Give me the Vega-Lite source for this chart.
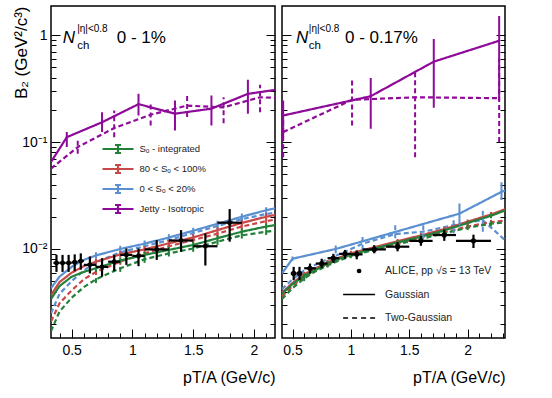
{
  "$schema": "https://vega.github.io/schema/vega-lite/v6.json",
  "padding": {"left": 11, "top": 5, "right": 5, "bottom": 5},
  "config": {
    "font": "Liberation Sans",
    "view": {"stroke": "black", "strokeWidth": 1.5},
    "axis": {"labelFont": "Liberation Sans", "titleFont": "Liberation Sans", "labelColor": "black", "titleColor": "black", "tickColor": "black", "tickWidth": 1, "domain": false, "grid": false, "labelOverlap": false, "labelFlush": false, "titleFontWeight": "normal"},
    "legend": {"labelFont": "Liberation Sans", "labelColor": "#222"}
  },
  "datasets": {
    "m": [
      {"p":"L","s":"Jetty - Isotropic","t":"G","x":0.33,"y":0.065},
      {"p":"L","s":"Jetty - Isotropic","t":"G","x":0.46,"y":0.111,"lo":0.090,"hi":0.124},
      {"p":"L","s":"Jetty - Isotropic","t":"G","x":0.75,"y":0.153,"lo":0.124,"hi":0.190},
      {"p":"L","s":"Jetty - Isotropic","t":"G","x":1.05,"y":0.226,"lo":0.177,"hi":0.282},
      {"p":"L","s":"Jetty - Isotropic","t":"G","x":1.35,"y":0.184,"lo":0.128,"hi":0.244},
      {"p":"L","s":"Jetty - Isotropic","t":"G","x":1.65,"y":0.205,"lo":0.143,"hi":0.272},
      {"p":"L","s":"Jetty - Isotropic","t":"G","x":1.95,"y":0.282,"lo":0.184,"hi":0.383},
      {"p":"L","s":"Jetty - Isotropic","t":"G","x":2.173,"y":0.307},
      {"p":"L","s":"Jetty - Isotropic","t":"T","x":0.33,"y":0.0564},
      {"p":"L","s":"Jetty - Isotropic","t":"T","x":0.55,"y":0.0897,"lo":0.0776,"hi":0.1033},
      {"p":"L","s":"Jetty - Isotropic","t":"T","x":0.85,"y":0.135,"lo":0.111,"hi":0.197},
      {"p":"L","s":"Jetty - Isotropic","t":"T","x":1.15,"y":0.180,"lo":0.143,"hi":0.236},
      {"p":"L","s":"Jetty - Isotropic","t":"T","x":1.45,"y":0.219,"lo":0.171,"hi":0.272},
      {"p":"L","s":"Jetty - Isotropic","t":"T","x":1.75,"y":0.211,"lo":0.150,"hi":0.262},
      {"p":"L","s":"Jetty - Isotropic","t":"T","x":2.05,"y":0.262,"lo":0.190,"hi":0.344},
      {"p":"L","s":"Jetty - Isotropic","t":"T","x":2.173,"y":0.259},

      {"p":"L","s":"0 < Sₒ < 20%","t":"G","x":0.33,"y":0.0043},
      {"p":"L","s":"0 < Sₒ < 20%","t":"G","x":0.4,"y":0.0055},
      {"p":"L","s":"0 < Sₒ < 20%","t":"G","x":0.5,"y":0.0068},
      {"p":"L","s":"0 < Sₒ < 20%","t":"G","x":0.6,"y":0.0079},
      {"p":"L","s":"0 < Sₒ < 20%","t":"G","x":0.7,"y":0.0087,"lo":0.0081,"hi":0.0093},
      {"p":"L","s":"0 < Sₒ < 20%","t":"G","x":0.9,"y":0.0100,"lo":0.0093,"hi":0.0107},
      {"p":"L","s":"0 < Sₒ < 20%","t":"G","x":1.1,"y":0.0112,"lo":0.0104,"hi":0.0120},
      {"p":"L","s":"0 < Sₒ < 20%","t":"G","x":1.3,"y":0.0128,"lo":0.0119,"hi":0.0137},
      {"p":"L","s":"0 < Sₒ < 20%","t":"G","x":1.5,"y":0.0148,"lo":0.0138,"hi":0.0158},
      {"p":"L","s":"0 < Sₒ < 20%","t":"G","x":1.7,"y":0.0172,"lo":0.0160,"hi":0.0184},
      {"p":"L","s":"0 < Sₒ < 20%","t":"G","x":1.9,"y":0.0200,"lo":0.0186,"hi":0.0214},
      {"p":"L","s":"0 < Sₒ < 20%","t":"G","x":2.1,"y":0.0230,"lo":0.0214,"hi":0.0246},
      {"p":"L","s":"0 < Sₒ < 20%","t":"G","x":2.173,"y":0.0240},
      {"p":"L","s":"0 < Sₒ < 20%","t":"T","x":0.33,"y":0.0025},
      {"p":"L","s":"0 < Sₒ < 20%","t":"T","x":0.4,"y":0.0038},
      {"p":"L","s":"0 < Sₒ < 20%","t":"T","x":0.5,"y":0.0050},
      {"p":"L","s":"0 < Sₒ < 20%","t":"T","x":0.6,"y":0.0063},
      {"p":"L","s":"0 < Sₒ < 20%","t":"T","x":0.7,"y":0.0075,"lo":0.0070,"hi":0.0080},
      {"p":"L","s":"0 < Sₒ < 20%","t":"T","x":0.9,"y":0.0093,"lo":0.0086,"hi":0.0100},
      {"p":"L","s":"0 < Sₒ < 20%","t":"T","x":1.1,"y":0.0106,"lo":0.0099,"hi":0.0113},
      {"p":"L","s":"0 < Sₒ < 20%","t":"T","x":1.3,"y":0.0121,"lo":0.0113,"hi":0.0129},
      {"p":"L","s":"0 < Sₒ < 20%","t":"T","x":1.5,"y":0.0141,"lo":0.0131,"hi":0.0151},
      {"p":"L","s":"0 < Sₒ < 20%","t":"T","x":1.7,"y":0.0164,"lo":0.0153,"hi":0.0175},
      {"p":"L","s":"0 < Sₒ < 20%","t":"T","x":1.9,"y":0.0190,"lo":0.0177,"hi":0.0203},
      {"p":"L","s":"0 < Sₒ < 20%","t":"T","x":2.1,"y":0.0212,"lo":0.0197,"hi":0.0227},
      {"p":"L","s":"0 < Sₒ < 20%","t":"T","x":2.173,"y":0.0218},

      {"p":"L","s":"80 < Sₒ < 100%","t":"G","x":0.33,"y":0.0037},
      {"p":"L","s":"80 < Sₒ < 100%","t":"G","x":0.4,"y":0.0049},
      {"p":"L","s":"80 < Sₒ < 100%","t":"G","x":0.5,"y":0.0060},
      {"p":"L","s":"80 < Sₒ < 100%","t":"G","x":0.6,"y":0.0069},
      {"p":"L","s":"80 < Sₒ < 100%","t":"G","x":0.7,"y":0.0076,"lo":0.0071,"hi":0.0081},
      {"p":"L","s":"80 < Sₒ < 100%","t":"G","x":0.9,"y":0.0089,"lo":0.0083,"hi":0.0095},
      {"p":"L","s":"80 < Sₒ < 100%","t":"G","x":1.1,"y":0.0099,"lo":0.0092,"hi":0.0106},
      {"p":"L","s":"80 < Sₒ < 100%","t":"G","x":1.3,"y":0.0113,"lo":0.0105,"hi":0.0121},
      {"p":"L","s":"80 < Sₒ < 100%","t":"G","x":1.5,"y":0.0128,"lo":0.0119,"hi":0.0137},
      {"p":"L","s":"80 < Sₒ < 100%","t":"G","x":1.7,"y":0.0150,"lo":0.0140,"hi":0.0160},
      {"p":"L","s":"80 < Sₒ < 100%","t":"G","x":1.9,"y":0.0175,"lo":0.0163,"hi":0.0187},
      {"p":"L","s":"80 < Sₒ < 100%","t":"G","x":2.1,"y":0.0200,"lo":0.0186,"hi":0.0214},
      {"p":"L","s":"80 < Sₒ < 100%","t":"G","x":2.173,"y":0.0208},
      {"p":"L","s":"80 < Sₒ < 100%","t":"T","x":0.33,"y":0.0021},
      {"p":"L","s":"80 < Sₒ < 100%","t":"T","x":0.4,"y":0.0031},
      {"p":"L","s":"80 < Sₒ < 100%","t":"T","x":0.5,"y":0.0041},
      {"p":"L","s":"80 < Sₒ < 100%","t":"T","x":0.6,"y":0.0052},
      {"p":"L","s":"80 < Sₒ < 100%","t":"T","x":0.7,"y":0.0061,"lo":0.0057,"hi":0.0065},
      {"p":"L","s":"80 < Sₒ < 100%","t":"T","x":0.9,"y":0.0076,"lo":0.0071,"hi":0.0081},
      {"p":"L","s":"80 < Sₒ < 100%","t":"T","x":1.1,"y":0.0091,"lo":0.0085,"hi":0.0097},
      {"p":"L","s":"80 < Sₒ < 100%","t":"T","x":1.3,"y":0.0106,"lo":0.0099,"hi":0.0113},
      {"p":"L","s":"80 < Sₒ < 100%","t":"T","x":1.5,"y":0.0121,"lo":0.0113,"hi":0.0129},
      {"p":"L","s":"80 < Sₒ < 100%","t":"T","x":1.7,"y":0.0139,"lo":0.0129,"hi":0.0149},
      {"p":"L","s":"80 < Sₒ < 100%","t":"T","x":1.9,"y":0.0162,"lo":0.0151,"hi":0.0173},
      {"p":"L","s":"80 < Sₒ < 100%","t":"T","x":2.1,"y":0.0182,"lo":0.0169,"hi":0.0195},
      {"p":"L","s":"80 < Sₒ < 100%","t":"T","x":2.173,"y":0.0188},

      {"p":"L","s":"Sₒ - integrated","t":"G","x":0.33,"y":0.0034},
      {"p":"L","s":"Sₒ - integrated","t":"G","x":0.4,"y":0.0045},
      {"p":"L","s":"Sₒ - integrated","t":"G","x":0.5,"y":0.0055},
      {"p":"L","s":"Sₒ - integrated","t":"G","x":0.6,"y":0.0061},
      {"p":"L","s":"Sₒ - integrated","t":"G","x":0.7,"y":0.0066,"lo":0.0061,"hi":0.0071},
      {"p":"L","s":"Sₒ - integrated","t":"G","x":0.9,"y":0.0078,"lo":0.0073,"hi":0.0083},
      {"p":"L","s":"Sₒ - integrated","t":"G","x":1.1,"y":0.0088,"lo":0.0082,"hi":0.0094},
      {"p":"L","s":"Sₒ - integrated","t":"G","x":1.3,"y":0.0098,"lo":0.0091,"hi":0.0105},
      {"p":"L","s":"Sₒ - integrated","t":"G","x":1.5,"y":0.0109,"lo":0.0101,"hi":0.0117},
      {"p":"L","s":"Sₒ - integrated","t":"G","x":1.7,"y":0.0126,"lo":0.0117,"hi":0.0135},
      {"p":"L","s":"Sₒ - integrated","t":"G","x":1.9,"y":0.0145,"lo":0.0135,"hi":0.0155},
      {"p":"L","s":"Sₒ - integrated","t":"G","x":2.1,"y":0.0162,"lo":0.0151,"hi":0.0173},
      {"p":"L","s":"Sₒ - integrated","t":"G","x":2.173,"y":0.0167},
      {"p":"L","s":"Sₒ - integrated","t":"T","x":0.33,"y":0.0017},
      {"p":"L","s":"Sₒ - integrated","t":"T","x":0.4,"y":0.0026},
      {"p":"L","s":"Sₒ - integrated","t":"T","x":0.5,"y":0.0035},
      {"p":"L","s":"Sₒ - integrated","t":"T","x":0.6,"y":0.0044},
      {"p":"L","s":"Sₒ - integrated","t":"T","x":0.7,"y":0.0052,"lo":0.0048,"hi":0.0056},
      {"p":"L","s":"Sₒ - integrated","t":"T","x":0.9,"y":0.0066,"lo":0.0061,"hi":0.0071},
      {"p":"L","s":"Sₒ - integrated","t":"T","x":1.1,"y":0.0080,"lo":0.0074,"hi":0.0086},
      {"p":"L","s":"Sₒ - integrated","t":"T","x":1.3,"y":0.0091,"lo":0.0085,"hi":0.0097},
      {"p":"L","s":"Sₒ - integrated","t":"T","x":1.5,"y":0.0101,"lo":0.0094,"hi":0.0108},
      {"p":"L","s":"Sₒ - integrated","t":"T","x":1.7,"y":0.0117,"lo":0.0109,"hi":0.0125},
      {"p":"L","s":"Sₒ - integrated","t":"T","x":1.9,"y":0.0134,"lo":0.0125,"hi":0.0143},
      {"p":"L","s":"Sₒ - integrated","t":"T","x":2.1,"y":0.0145,"lo":0.0135,"hi":0.0155},
      {"p":"L","s":"Sₒ - integrated","t":"T","x":2.173,"y":0.0148},

      {"p":"R","s":"Jetty - Isotropic","t":"G","x":0.42,"y":0.177,"lo":0.111,"hi":0.244},
      {"p":"R","s":"Jetty - Isotropic","t":"G","x":1.17,"y":0.268,"lo":0.133,"hi":0.397},
      {"p":"R","s":"Jetty - Isotropic","t":"G","x":1.71,"y":0.564,"lo":0.209,"hi":0.918},
      {"p":"R","s":"Jetty - Isotropic","t":"G","x":2.27,"y":0.885,"lo":0.244,"hi":1.51},
      {"p":"R","s":"Jetty - Isotropic","t":"T","x":0.42,"y":0.124,"lo":0.072,"hi":0.160},
      {"p":"R","s":"Jetty - Isotropic","t":"T","x":1.01,"y":0.248,"lo":0.143,"hi":0.389},
      {"p":"R","s":"Jetty - Isotropic","t":"T","x":1.55,"y":0.262,"lo":0.072,"hi":0.465},
      {"p":"R","s":"Jetty - Isotropic","t":"T","x":2.27,"y":0.257,"lo":0.100,"hi":0.600},

      {"p":"R","s":"0 < Sₒ < 20%","t":"G","x":0.41,"y":0.0059},
      {"p":"R","s":"0 < Sₒ < 20%","t":"G","x":0.5,"y":0.0081,"lo":0.0077,"hi":0.0085},
      {"p":"R","s":"0 < Sₒ < 20%","t":"G","x":0.87,"y":0.0100,"lo":0.0091,"hi":0.0108},
      {"p":"R","s":"0 < Sₒ < 20%","t":"G","x":1.93,"y":0.0214,"lo":0.0167,"hi":0.0266},
      {"p":"R","s":"0 < Sₒ < 20%","t":"G","x":2.29,"y":0.0342,"lo":0.0287,"hi":0.0420},
      {"p":"R","s":"0 < Sₒ < 20%","t":"G","x":2.32,"y":0.0352},
      {"p":"R","s":"0 < Sₒ < 20%","t":"T","x":0.41,"y":0.0042},
      {"p":"R","s":"0 < Sₒ < 20%","t":"T","x":0.5,"y":0.0052},
      {"p":"R","s":"0 < Sₒ < 20%","t":"T","x":0.6,"y":0.0063},
      {"p":"R","s":"0 < Sₒ < 20%","t":"T","x":0.75,"y":0.0076},
      {"p":"R","s":"0 < Sₒ < 20%","t":"T","x":0.9,"y":0.0089},
      {"p":"R","s":"0 < Sₒ < 20%","t":"T","x":1.1,"y":0.0112,"lo":0.0098,"hi":0.0135},
      {"p":"R","s":"0 < Sₒ < 20%","t":"T","x":1.38,"y":0.0138,"lo":0.0126,"hi":0.0174},
      {"p":"R","s":"0 < Sₒ < 20%","t":"T","x":1.62,"y":0.0145,"lo":0.0126,"hi":0.0174},
      {"p":"R","s":"0 < Sₒ < 20%","t":"T","x":1.88,"y":0.0167,"lo":0.0140,"hi":0.0200},
      {"p":"R","s":"0 < Sₒ < 20%","t":"T","x":2.13,"y":0.0186,"lo":0.0145,"hi":0.0238},
      {"p":"R","s":"0 < Sₒ < 20%","t":"T","x":2.32,"y":0.0121},

      {"p":"R","s":"80 < Sₒ < 100%","t":"G","x":0.41,"y":0.0039},
      {"p":"R","s":"80 < Sₒ < 100%","t":"G","x":0.5,"y":0.0048},
      {"p":"R","s":"80 < Sₒ < 100%","t":"G","x":0.6,"y":0.0058,"lo":0.0055,"hi":0.0061},
      {"p":"R","s":"80 < Sₒ < 100%","t":"G","x":0.7,"y":0.0066},
      {"p":"R","s":"80 < Sₒ < 100%","t":"G","x":0.8,"y":0.0075,"lo":0.0071,"hi":0.0079},
      {"p":"R","s":"80 < Sₒ < 100%","t":"G","x":0.9,"y":0.0083},
      {"p":"R","s":"80 < Sₒ < 100%","t":"G","x":1.0,"y":0.0091,"lo":0.0086,"hi":0.0096},
      {"p":"R","s":"80 < Sₒ < 100%","t":"G","x":1.2,"y":0.0104,"lo":0.0099,"hi":0.0109},
      {"p":"R","s":"80 < Sₒ < 100%","t":"G","x":1.4,"y":0.0118,"lo":0.0112,"hi":0.0124},
      {"p":"R","s":"80 < Sₒ < 100%","t":"G","x":1.6,"y":0.0134,"lo":0.0127,"hi":0.0141},
      {"p":"R","s":"80 < Sₒ < 100%","t":"G","x":1.8,"y":0.0153,"lo":0.0145,"hi":0.0161},
      {"p":"R","s":"80 < Sₒ < 100%","t":"G","x":2.0,"y":0.0180,"lo":0.0171,"hi":0.0189},
      {"p":"R","s":"80 < Sₒ < 100%","t":"G","x":2.2,"y":0.0210,"lo":0.0200,"hi":0.0221},
      {"p":"R","s":"80 < Sₒ < 100%","t":"G","x":2.32,"y":0.0235},
      {"p":"R","s":"80 < Sₒ < 100%","t":"T","x":0.41,"y":0.0036},
      {"p":"R","s":"80 < Sₒ < 100%","t":"T","x":0.5,"y":0.0045},
      {"p":"R","s":"80 < Sₒ < 100%","t":"T","x":0.6,"y":0.0055,"lo":0.0052,"hi":0.0058},
      {"p":"R","s":"80 < Sₒ < 100%","t":"T","x":0.7,"y":0.0064},
      {"p":"R","s":"80 < Sₒ < 100%","t":"T","x":0.8,"y":0.0072,"lo":0.0068,"hi":0.0076},
      {"p":"R","s":"80 < Sₒ < 100%","t":"T","x":0.9,"y":0.0080},
      {"p":"R","s":"80 < Sₒ < 100%","t":"T","x":1.0,"y":0.0088,"lo":0.0084,"hi":0.0092},
      {"p":"R","s":"80 < Sₒ < 100%","t":"T","x":1.2,"y":0.0100,"lo":0.0095,"hi":0.0105},
      {"p":"R","s":"80 < Sₒ < 100%","t":"T","x":1.4,"y":0.0113,"lo":0.0107,"hi":0.0119},
      {"p":"R","s":"80 < Sₒ < 100%","t":"T","x":1.6,"y":0.0127,"lo":0.0121,"hi":0.0133},
      {"p":"R","s":"80 < Sₒ < 100%","t":"T","x":1.8,"y":0.0143,"lo":0.0136,"hi":0.0150},
      {"p":"R","s":"80 < Sₒ < 100%","t":"T","x":2.0,"y":0.0162,"lo":0.0154,"hi":0.0170},
      {"p":"R","s":"80 < Sₒ < 100%","t":"T","x":2.2,"y":0.0178,"lo":0.0169,"hi":0.0187},
      {"p":"R","s":"80 < Sₒ < 100%","t":"T","x":2.32,"y":0.0184},

      {"p":"R","s":"Sₒ - integrated","t":"G","x":0.41,"y":0.0038},
      {"p":"R","s":"Sₒ - integrated","t":"G","x":0.5,"y":0.0047},
      {"p":"R","s":"Sₒ - integrated","t":"G","x":0.6,"y":0.0056,"lo":0.0053,"hi":0.0059},
      {"p":"R","s":"Sₒ - integrated","t":"G","x":0.7,"y":0.0064},
      {"p":"R","s":"Sₒ - integrated","t":"G","x":0.8,"y":0.0073,"lo":0.0069,"hi":0.0077},
      {"p":"R","s":"Sₒ - integrated","t":"G","x":0.9,"y":0.0081},
      {"p":"R","s":"Sₒ - integrated","t":"G","x":1.0,"y":0.0088,"lo":0.0084,"hi":0.0092},
      {"p":"R","s":"Sₒ - integrated","t":"G","x":1.2,"y":0.0101,"lo":0.0096,"hi":0.0106},
      {"p":"R","s":"Sₒ - integrated","t":"G","x":1.4,"y":0.0115,"lo":0.0109,"hi":0.0121},
      {"p":"R","s":"Sₒ - integrated","t":"G","x":1.6,"y":0.0130,"lo":0.0124,"hi":0.0137},
      {"p":"R","s":"Sₒ - integrated","t":"G","x":1.8,"y":0.0149,"lo":0.0142,"hi":0.0156},
      {"p":"R","s":"Sₒ - integrated","t":"G","x":2.0,"y":0.0175,"lo":0.0166,"hi":0.0184},
      {"p":"R","s":"Sₒ - integrated","t":"G","x":2.2,"y":0.0204,"lo":0.0194,"hi":0.0214},
      {"p":"R","s":"Sₒ - integrated","t":"G","x":2.32,"y":0.0229},
      {"p":"R","s":"Sₒ - integrated","t":"T","x":0.41,"y":0.0034},
      {"p":"R","s":"Sₒ - integrated","t":"T","x":0.5,"y":0.0043},
      {"p":"R","s":"Sₒ - integrated","t":"T","x":0.6,"y":0.0053,"lo":0.0050,"hi":0.0056},
      {"p":"R","s":"Sₒ - integrated","t":"T","x":0.7,"y":0.0062},
      {"p":"R","s":"Sₒ - integrated","t":"T","x":0.8,"y":0.0070,"lo":0.0067,"hi":0.0074},
      {"p":"R","s":"Sₒ - integrated","t":"T","x":0.9,"y":0.0078},
      {"p":"R","s":"Sₒ - integrated","t":"T","x":1.0,"y":0.0086,"lo":0.0082,"hi":0.0090},
      {"p":"R","s":"Sₒ - integrated","t":"T","x":1.2,"y":0.0098,"lo":0.0093,"hi":0.0103},
      {"p":"R","s":"Sₒ - integrated","t":"T","x":1.4,"y":0.0111,"lo":0.0105,"hi":0.0117},
      {"p":"R","s":"Sₒ - integrated","t":"T","x":1.6,"y":0.0124,"lo":0.0118,"hi":0.0130},
      {"p":"R","s":"Sₒ - integrated","t":"T","x":1.8,"y":0.0140,"lo":0.0133,"hi":0.0147},
      {"p":"R","s":"Sₒ - integrated","t":"T","x":2.0,"y":0.0158,"lo":0.0150,"hi":0.0166},
      {"p":"R","s":"Sₒ - integrated","t":"T","x":2.2,"y":0.0172,"lo":0.0163,"hi":0.0181},
      {"p":"R","s":"Sₒ - integrated","t":"T","x":2.32,"y":0.0178}
    ],
    "a": [
      {"p":"L","k":"ALICE, pp √s = 13 TeV","x":0.375,"y":0.0074,"xlo":0.35,"xhi":0.40,"ylo":0.0061,"yhi":0.0088},
      {"p":"L","k":"ALICE, pp √s = 13 TeV","x":0.425,"y":0.0074,"xlo":0.40,"xhi":0.45,"ylo":0.0061,"yhi":0.0088},
      {"p":"L","k":"ALICE, pp √s = 13 TeV","x":0.475,"y":0.0074,"xlo":0.45,"xhi":0.50,"ylo":0.0061,"yhi":0.0088},
      {"p":"L","k":"ALICE, pp √s = 13 TeV","x":0.525,"y":0.0075,"xlo":0.50,"xhi":0.55,"ylo":0.0062,"yhi":0.0089},
      {"p":"L","k":"ALICE, pp √s = 13 TeV","x":0.575,"y":0.0077,"xlo":0.55,"xhi":0.60,"ylo":0.0064,"yhi":0.0091},
      {"p":"L","k":"ALICE, pp √s = 13 TeV","x":0.65,"y":0.0071,"xlo":0.60,"xhi":0.70,"ylo":0.0059,"yhi":0.0085},
      {"p":"L","k":"ALICE, pp √s = 13 TeV","x":0.75,"y":0.0068,"xlo":0.70,"xhi":0.80,"ylo":0.0055,"yhi":0.0082},
      {"p":"L","k":"ALICE, pp √s = 13 TeV","x":0.85,"y":0.0076,"xlo":0.80,"xhi":0.90,"ylo":0.0062,"yhi":0.0088},
      {"p":"L","k":"ALICE, pp √s = 13 TeV","x":0.95,"y":0.0088,"xlo":0.90,"xhi":1.00,"ylo":0.0071,"yhi":0.0101},
      {"p":"L","k":"ALICE, pp √s = 13 TeV","x":1.05,"y":0.0086,"xlo":1.00,"xhi":1.10,"ylo":0.0069,"yhi":0.0101},
      {"p":"L","k":"ALICE, pp √s = 13 TeV","x":1.2,"y":0.0099,"xlo":1.1,"xhi":1.3,"ylo":0.0079,"yhi":0.0121},
      {"p":"L","k":"ALICE, pp √s = 13 TeV","x":1.4,"y":0.0120,"xlo":1.3,"xhi":1.5,"ylo":0.0094,"yhi":0.0150},
      {"p":"L","k":"ALICE, pp √s = 13 TeV","x":1.6,"y":0.0106,"xlo":1.5,"xhi":1.7,"ylo":0.0070,"yhi":0.0140},
      {"p":"L","k":"ALICE, pp √s = 13 TeV","x":1.8,"y":0.0176,"xlo":1.7,"xhi":1.9,"ylo":0.0117,"yhi":0.0236},
      {"p":"R","k":"ALICE, pp √s = 13 TeV","x":0.51,"y":0.0059,"xlo":0.485,"xhi":0.535,"ylo":0.0051,"yhi":0.0068},
      {"p":"R","k":"ALICE, pp √s = 13 TeV","x":0.56,"y":0.0059,"xlo":0.535,"xhi":0.585,"ylo":0.0051,"yhi":0.0068},
      {"p":"R","k":"ALICE, pp √s = 13 TeV","x":0.65,"y":0.0066,"xlo":0.6,"xhi":0.7,"ylo":0.0059,"yhi":0.0073},
      {"p":"R","k":"ALICE, pp √s = 13 TeV","x":0.75,"y":0.0073,"xlo":0.7,"xhi":0.8,"ylo":0.0066,"yhi":0.0081},
      {"p":"R","k":"ALICE, pp √s = 13 TeV","x":0.85,"y":0.0082,"xlo":0.8,"xhi":0.9,"ylo":0.0074,"yhi":0.0090},
      {"p":"R","k":"ALICE, pp √s = 13 TeV","x":0.95,"y":0.0090,"xlo":0.9,"xhi":1.0,"ylo":0.0081,"yhi":0.0098},
      {"p":"R","k":"ALICE, pp √s = 13 TeV","x":1.05,"y":0.0089,"xlo":1.0,"xhi":1.1,"ylo":0.0080,"yhi":0.0097},
      {"p":"R","k":"ALICE, pp √s = 13 TeV","x":1.2,"y":0.0099,"xlo":1.1,"xhi":1.3,"ylo":0.0091,"yhi":0.0108},
      {"p":"R","k":"ALICE, pp √s = 13 TeV","x":1.4,"y":0.0105,"xlo":1.3,"xhi":1.5,"ylo":0.0095,"yhi":0.0116},
      {"p":"R","k":"ALICE, pp √s = 13 TeV","x":1.6,"y":0.0119,"xlo":1.5,"xhi":1.7,"ylo":0.0107,"yhi":0.0132},
      {"p":"R","k":"ALICE, pp √s = 13 TeV","x":1.8,"y":0.0135,"xlo":1.7,"xhi":1.9,"ylo":0.0119,"yhi":0.0152},
      {"p":"R","k":"ALICE, pp √s = 13 TeV","x":2.05,"y":0.0119,"xlo":1.9,"xhi":2.2,"ylo":0.0102,"yhi":0.0136}
    ]
  },
  "spacing": 3,
  "resolve": {"scale": {"x": "independent", "y": "independent", "color": "independent", "strokeDash": "independent", "shape": "independent"}},
  "hconcat": [
    {
      "width": 224, "height": 332,
      "layer": [
        {
          "data": {"name": "m"}, "transform": [{"filter": "datum.p == 'L'"}],
          "mark": {"type": "line", "strokeWidth": 2.2, "clip": true},
          "encoding": {
            "x": {"field": "x", "type": "quantitative", "scale": {"domain": [0.33, 2.173], "nice": false, "zero": false},
              "axis": {"orient": "bottom", "values": [0.4,0.5,0.6,0.7,0.8,0.9,1,1.1,1.2,1.3,1.4,1.5,1.6,1.7,1.8,1.9,2,2.1], "tickCount": 60,
                "labelExpr": "abs(datum.value*2-round(datum.value*2))<0.001 ? format(datum.value,'~g') : ''",
                "labelOverlap": false, "labelBound": false, "labelFlush": false,
                "tickSize": {"condition": {"test": "abs(datum.value*2-round(datum.value*2))<0.001", "value": -9}, "value": -5},
                "labelPadding": 14, "labelFontSize": 14, "title": "pT/A (GeV/c)", "titleFontSize": 16, "titleAnchor": "end", "titlePadding": 8}},
            "y": {"field": "y", "type": "quantitative", "scale": {"type": "log", "domain": [0.00147, 1.87], "nice": false},
              "axis": {"orient": "left", "values": [0.002,0.003,0.004,0.005,0.006,0.007,0.008,0.009,0.01,0.02,0.03,0.04,0.05,0.06,0.07,0.08,0.09,0.1,0.2,0.3,0.4,0.5,0.6,0.7,0.8,0.9,1], "tickCount": 60,
                "labelExpr": "abs(datum.value-1)<1e-6 ? '1' : abs(datum.value-0.1)<1e-6 ? '10⁻¹' : abs(datum.value-0.01)<1e-6 ? '10⁻²' : ''",
                "labelOverlap": false, "labelBound": false, "labelFlush": false,
                "tickSize": {"condition": {"test": "abs(log(datum.value)/LN10-round(log(datum.value)/LN10))<0.001", "value": -9}, "value": -5},
                "labelPadding": 13, "labelFontSize": 14, "title": "B₂ (GeV²/c³)", "titleFontSize": 17, "titleAnchor": "end", "titleX": -21, "titleY": 0}},
            "color": {"field": "s", "type": "nominal",
              "scale": {"domain": ["Sₒ - integrated", "80 < Sₒ < 100%", "0 < Sₒ < 20%", "Jetty - Isotropic"], "range": ["#23803a", "#c84848", "#5a8fd0", "#8e0a98"]},
              "legend": {"orient": "none", "legendX": 57, "legendY": 133, "title": null, "padding": 0,
                "symbolType": "M-1.761,0H1.761M0,-0.455V0.455M-0.34,-0.455H0.34M-0.34,0.455H0.34", "symbolSize": 310, "symbolStrokeWidth": 2.2,
                "labelFontSize": 9.5, "labelOffset": 11.5, "rowPadding": 1,
                "encode": {"symbols": {"update": {"fill": {"value": "transparent"}, "strokeWidth": {"value": 2.2}}}}}},
            "strokeDash": {"field": "t", "type": "nominal", "scale": {"domain": ["G", "T"], "range": [[1, 0], [5, 3]]}, "legend": null}
          }
        },
        {
          "data": {"name": "m"}, "transform": [{"filter": "datum.p == 'L' && isValid(datum.lo)"}],
          "mark": {"type": "rule", "strokeWidth": 2, "clip": true},
          "encoding": {
            "x": {"field": "x", "type": "quantitative", "scale": {"domain": [0.33, 2.173], "nice": false, "zero": false}},
            "y": {"field": "lo", "type": "quantitative", "scale": {"type": "log", "domain": [0.00147, 1.87], "nice": false}, "axis": null},
            "y2": {"field": "hi"},
            "color": {"field": "s", "type": "nominal", "scale": {"domain": ["Sₒ - integrated", "80 < Sₒ < 100%", "0 < Sₒ < 20%", "Jetty - Isotropic"], "range": ["#23803a", "#c84848", "#5a8fd0", "#8e0a98"]}, "legend": null},
            "strokeDash": {"field": "t", "type": "nominal", "scale": {"domain": ["G", "T"], "range": [[1, 0], [5, 3]]}, "legend": null}
          }
        },
        {
          "data": {"name": "a"}, "transform": [{"filter": "datum.p == 'L'"}],
          "mark": {"type": "rule", "color": "black", "strokeWidth": 2.2, "clip": true},
          "encoding": {
            "x": {"field": "xlo", "type": "quantitative", "scale": {"domain": [0.33, 2.173], "nice": false, "zero": false}},
            "x2": {"field": "xhi"},
            "y": {"field": "y", "type": "quantitative", "scale": {"type": "log", "domain": [0.00147, 1.87], "nice": false}, "axis": null}
          }
        },
        {
          "data": {"name": "a"}, "transform": [{"filter": "datum.p == 'L'"}],
          "mark": {"type": "rule", "color": "black", "strokeWidth": 2.2, "clip": true},
          "encoding": {
            "x": {"field": "x", "type": "quantitative", "scale": {"domain": [0.33, 2.173], "nice": false, "zero": false}},
            "y": {"field": "ylo", "type": "quantitative", "scale": {"type": "log", "domain": [0.00147, 1.87], "nice": false},
              "axis": {"orient": "right", "values": [0.002,0.003,0.004,0.005,0.006,0.007,0.008,0.009,0.01,0.02,0.03,0.04,0.05,0.06,0.07,0.08,0.09,0.1,0.2,0.3,0.4,0.5,0.6,0.7,0.8,0.9,1], "tickCount": 60,
                "labels": false, "title": null,
                "tickSize": {"condition": {"test": "abs(log(datum.value)/LN10-round(log(datum.value)/LN10))<0.001", "value": -9}, "value": -5}}},
            "y2": {"field": "yhi"}
          }
        },
        {
          "data": {"name": "a"}, "transform": [{"filter": "datum.p == 'L'"}],
          "mark": {"type": "point", "filled": true, "color": "black", "size": 24, "opacity": 1, "clip": true},
          "encoding": {
            "x": {"field": "x", "type": "quantitative", "scale": {"domain": [0.33, 2.173], "nice": false, "zero": false}},
            "y": {"field": "y", "type": "quantitative", "scale": {"type": "log", "domain": [0.00147, 1.87], "nice": false}, "axis": null}
          }
        },
        {
          "data": {"values": [{}]},
          "mark": {"type": "text", "text": "N", "align": "left", "baseline": "alphabetic", "fontSize": 17, "fontStyle": "italic", "color": "black"},
          "encoding": {
            "x": {"datum": 0.426, "type": "quantitative", "scale": {"domain": [0.33, 2.173], "nice": false, "zero": false}},
            "y": {"datum": 0.84, "type": "quantitative", "scale": {"type": "log", "domain": [0.00147, 1.87], "nice": false}, "axis": null}
          }
        },
        {
          "data": {"values": [{}]},
          "mark": {"type": "text", "text": "ch", "align": "left", "baseline": "alphabetic", "fontSize": 11.5, "color": "black"},
          "encoding": {
            "x": {"datum": 0.545, "type": "quantitative", "scale": {"domain": [0.33, 2.173], "nice": false, "zero": false}},
            "y": {"datum": 0.74, "type": "quantitative", "scale": {"type": "log", "domain": [0.00147, 1.87], "nice": false}, "axis": null}
          }
        },
        {
          "data": {"values": [{}]},
          "mark": {"type": "text", "text": "|η|<0.8", "align": "left", "baseline": "alphabetic", "fontSize": 10, "color": "black"},
          "encoding": {
            "x": {"datum": 0.545, "type": "quantitative", "scale": {"domain": [0.33, 2.173], "nice": false, "zero": false}},
            "y": {"datum": 1.06, "type": "quantitative", "scale": {"type": "log", "domain": [0.00147, 1.87], "nice": false}, "axis": null}
          }
        },
        {
          "data": {"values": [{}]},
          "mark": {"type": "text", "text": "0 - 1%", "align": "left", "baseline": "alphabetic", "fontSize": 17, "color": "black"},
          "encoding": {
            "x": {"datum": 0.871, "type": "quantitative", "scale": {"domain": [0.33, 2.173], "nice": false, "zero": false}},
            "y": {"datum": 0.84, "type": "quantitative", "scale": {"type": "log", "domain": [0.00147, 1.87], "nice": false}, "axis": null}
          }
        }
      ]
    },
    {
      "width": 223, "height": 332,
      "layer": [
        {
          "data": {"name": "m"}, "transform": [{"filter": "datum.p == 'R'"}],
          "mark": {"type": "line", "strokeWidth": 2.2, "clip": true},
          "encoding": {
            "x": {"field": "x", "type": "quantitative", "scale": {"domain": [0.41, 2.32], "nice": false, "zero": false},
              "axis": {"orient": "bottom", "values": [0.5,0.6,0.7,0.8,0.9,1,1.1,1.2,1.3,1.4,1.5,1.6,1.7,1.8,1.9,2,2.1,2.2,2.3], "tickCount": 60,
                "labelExpr": "abs(datum.value*2-round(datum.value*2))<0.001 ? format(datum.value,'~g') : ''",
                "labelOverlap": false, "labelBound": false, "labelFlush": false,
                "tickSize": {"condition": {"test": "abs(datum.value*2-round(datum.value*2))<0.001", "value": -9}, "value": -5},
                "labelPadding": 14, "labelFontSize": 14, "title": "pT/A (GeV/c)", "titleFontSize": 16, "titleAnchor": "end", "titlePadding": 8}},
            "y": {"field": "y", "type": "quantitative", "scale": {"type": "log", "domain": [0.00147, 1.87], "nice": false},
              "axis": {"orient": "left", "values": [0.002,0.003,0.004,0.005,0.006,0.007,0.008,0.009,0.01,0.02,0.03,0.04,0.05,0.06,0.07,0.08,0.09,0.1,0.2,0.3,0.4,0.5,0.6,0.7,0.8,0.9,1], "tickCount": 60,
                "labels": false, "title": null,
                "tickSize": {"condition": {"test": "abs(log(datum.value)/LN10-round(log(datum.value)/LN10))<0.001", "value": -9}, "value": -5}}},
            "color": {"field": "s", "type": "nominal", "scale": {"domain": ["Sₒ - integrated", "80 < Sₒ < 100%", "0 < Sₒ < 20%", "Jetty - Isotropic"], "range": ["#23803a", "#c84848", "#5a8fd0", "#8e0a98"]}, "legend": null},
            "strokeDash": {"field": "t", "type": "nominal", "scale": {"domain": ["G", "T"], "range": [[1, 0], [5, 3]]}, "legend": null}
          }
        },
        {
          "data": {"name": "m"}, "transform": [{"filter": "datum.p == 'R' && isValid(datum.lo)"}],
          "mark": {"type": "rule", "strokeWidth": 2, "clip": true},
          "encoding": {
            "x": {"field": "x", "type": "quantitative", "scale": {"domain": [0.41, 2.32], "nice": false, "zero": false}},
            "y": {"field": "lo", "type": "quantitative", "scale": {"type": "log", "domain": [0.00147, 1.87], "nice": false}, "axis": null},
            "y2": {"field": "hi"},
            "color": {"field": "s", "type": "nominal", "scale": {"domain": ["Sₒ - integrated", "80 < Sₒ < 100%", "0 < Sₒ < 20%", "Jetty - Isotropic"], "range": ["#23803a", "#c84848", "#5a8fd0", "#8e0a98"]}, "legend": null},
            "strokeDash": {"field": "t", "type": "nominal", "scale": {"domain": ["G", "T"], "range": [[1, 0], [5, 3]]}, "legend": null}
          }
        },
        {
          "data": {"name": "a"}, "transform": [{"filter": "datum.p == 'R'"}],
          "mark": {"type": "rule", "color": "black", "strokeWidth": 2.2, "clip": true},
          "encoding": {
            "x": {"field": "xlo", "type": "quantitative", "scale": {"domain": [0.41, 2.32], "nice": false, "zero": false}},
            "x2": {"field": "xhi"},
            "y": {"field": "y", "type": "quantitative", "scale": {"type": "log", "domain": [0.00147, 1.87], "nice": false}, "axis": null}
          }
        },
        {
          "data": {"name": "a"}, "transform": [{"filter": "datum.p == 'R'"}],
          "mark": {"type": "rule", "color": "black", "strokeWidth": 2.2, "clip": true},
          "encoding": {
            "x": {"field": "x", "type": "quantitative", "scale": {"domain": [0.41, 2.32], "nice": false, "zero": false}},
            "y": {"field": "ylo", "type": "quantitative", "scale": {"type": "log", "domain": [0.00147, 1.87], "nice": false},
              "axis": {"orient": "right", "values": [0.002,0.003,0.004,0.005,0.006,0.007,0.008,0.009,0.01,0.02,0.03,0.04,0.05,0.06,0.07,0.08,0.09,0.1,0.2,0.3,0.4,0.5,0.6,0.7,0.8,0.9,1], "tickCount": 60,
                "labels": false, "title": null,
                "tickSize": {"condition": {"test": "abs(log(datum.value)/LN10-round(log(datum.value)/LN10))<0.001", "value": -9}, "value": -5}}},
            "y2": {"field": "yhi"}
          }
        },
        {
          "data": {"name": "a"}, "transform": [{"filter": "datum.p == 'R'"}],
          "mark": {"type": "point", "filled": true, "color": "black", "stroke": "black", "strokeWidth": 2, "size": 470, "opacity": 1, "clip": true},
          "encoding": {
            "x": {"field": "x", "type": "quantitative", "scale": {"domain": [0.41, 2.32], "nice": false, "zero": false}},
            "y": {"field": "y", "type": "quantitative", "scale": {"type": "log", "domain": [0.00147, 1.87], "nice": false}, "axis": null},
            "shape": {"field": "k", "type": "nominal",
              "scale": {"domain": ["ALICE, pp √s = 13 TeV", "Gaussian", "Two-Gaussian"],
                "range": ["M-1.476,0M1.476,0M-0.148,0A0.148,0.148,0,1,1,0.148,0A0.148,0.148,0,1,1,-0.148,0Z", "M-1.476,0H1.476", "M-1.476,0H-1.015M-0.646,0H-0.185M0.185,0H0.646M1.015,0H1.476"]},
              "legend": {"orient": "none", "legendX": 65.1, "legendY": 253, "title": null, "padding": 0,
                "symbolSize": 470, "labelFontSize": 10.5, "labelOffset": 14, "rowPadding": 5.5,
                "encode": {"symbols": {"update": {"fill": {"value": "black"}, "stroke": {"value": "black"}, "strokeWidth": {"value": 2.2}, "opacity": {"value": 1}}}}}}
          }
        },
        {
          "data": {"values": [{}]},
          "mark": {"type": "text", "text": "N", "align": "left", "baseline": "alphabetic", "fontSize": 17, "fontStyle": "italic", "color": "black"},
          "encoding": {
            "x": {"datum": 0.529, "type": "quantitative", "scale": {"domain": [0.41, 2.32], "nice": false, "zero": false}},
            "y": {"datum": 0.84, "type": "quantitative", "scale": {"type": "log", "domain": [0.00147, 1.87], "nice": false}, "axis": null}
          }
        },
        {
          "data": {"values": [{}]},
          "mark": {"type": "text", "text": "ch", "align": "left", "baseline": "alphabetic", "fontSize": 11.5, "color": "black"},
          "encoding": {
            "x": {"datum": 0.64, "type": "quantitative", "scale": {"domain": [0.41, 2.32], "nice": false, "zero": false}},
            "y": {"datum": 0.74, "type": "quantitative", "scale": {"type": "log", "domain": [0.00147, 1.87], "nice": false}, "axis": null}
          }
        },
        {
          "data": {"values": [{}]},
          "mark": {"type": "text", "text": "|η|<0.8", "align": "left", "baseline": "alphabetic", "fontSize": 10, "color": "black"},
          "encoding": {
            "x": {"datum": 0.64, "type": "quantitative", "scale": {"domain": [0.41, 2.32], "nice": false, "zero": false}},
            "y": {"datum": 1.06, "type": "quantitative", "scale": {"type": "log", "domain": [0.00147, 1.87], "nice": false}, "axis": null}
          }
        },
        {
          "data": {"values": [{}]},
          "mark": {"type": "text", "text": "0 - 0.17%", "align": "left", "baseline": "alphabetic", "fontSize": 17, "color": "black"},
          "encoding": {
            "x": {"datum": 0.95, "type": "quantitative", "scale": {"domain": [0.41, 2.32], "nice": false, "zero": false}},
            "y": {"datum": 0.84, "type": "quantitative", "scale": {"type": "log", "domain": [0.00147, 1.87], "nice": false}, "axis": null}
          }
        }
      ]
    }
  ]
}
